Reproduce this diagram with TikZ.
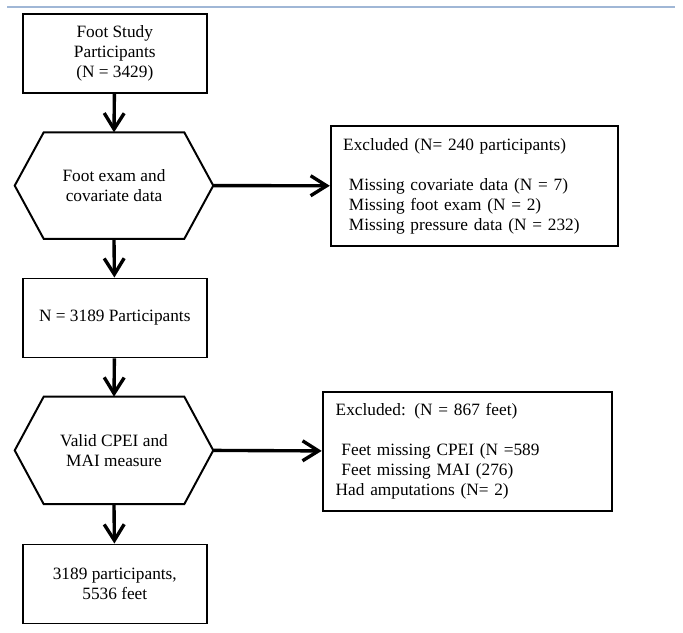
\documentclass[tikz,border=0pt]{standalone}
\usepackage{fontspec}
\setmainfont{Liberation Serif}
\usetikzlibrary{arrows.meta}
\definecolor{rulecol}{RGB}{160,183,214}
\begin{document}
\begin{tikzpicture}[font=\fontsize{12.3}{14.2}\selectfont, >={Straight Barb[length=4mm,width=5mm]},
	box/.style={draw, line width=1.4pt, minimum width=4.61cm, minimum height=1.975cm, align=center, inner sep=0pt},
	hexa/.style={minimum width=4.95cm, minimum height=2.65cm, align=center, inner sep=0pt},
	excl/.style={draw, line width=1.4pt, align=left, inner xsep=0.31cm, text width=6.56cm, minimum height=3cm},
	flow/.style={->, line width=2.4pt}]
	\useasboundingbox (0,0) rectangle (17.075,-15.825);
	\draw[rulecol, line width=1.2pt] (0.175,-0.175)--(16.875,-0.175);
	\node[box] (study) at (2.87,-1.34) {Foot Study\\Participants\\(N = 3429)};
	\node[hexa] (exam) at (2.85,-4.64) {Foot exam and\\covariate data};
	\node[box] (part) at (2.87,-7.95) {N = 3189 Participants};
	\node[hexa, minimum height=2.675cm] (valid) at (2.85,-11.26) {Valid CPEI and\\MAI measure};
	\node[box] (final) at (2.87,-14.6) {3189 participants,\\5536 feet};
	\node[excl] (outa) at (11.86,-4.65) {Excluded (N= 240 participants)\\[14.2pt]
		\ Missing covariate data (N = 7)\\
		\ Missing foot exam (N = 2)\\
		\ Missing pressure data (N = 232)};
	\node[excl, text width=6.575cm, inner xsep=0.325cm, minimum height=2.975cm] (outb) at (11.68,-11.29) {Excluded: (N = 867 feet)\\[14.2pt]
		\ Feet missing CPEI (N =589\\
		\ Feet missing MAI (276)\\
		Had amputations (N= 2)};
	\foreach \h in {exam,valid}{
		\draw[line width=1.4pt] (\h.west)--([xshift=0.725cm]\h.north west)--([xshift=-0.725cm]\h.north east)--(\h.east)--([xshift=-0.725cm]\h.south east)--([xshift=0.725cm]\h.south west)--cycle;
	}
	\draw[flow] (study)--(exam.north);
	\draw[flow] (exam.south)--(part);
	\draw[flow] (part)--(valid.north);
	\draw[flow] (valid.south)--(final);
	\draw[flow] (exam.east)--(outa);
	\draw[flow] (valid.east)--(outb);
\end{tikzpicture}
\end{document}
